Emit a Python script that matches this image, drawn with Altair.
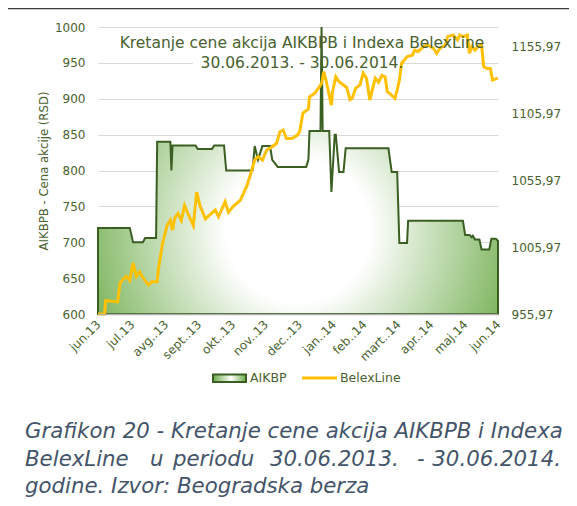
import altair as alt
import pandas as pd

# ---------------- data ----------------
START = "2013-06-30"   # day 0 of the series

# AIKBP share price (RSD), day offset from 30.06.2013
aik_days = [0, 29, 32, 41, 43, 53, 54, 66, 67, 68,
            89, 91, 104, 106, 115, 117, 141, 143, 146, 150,
            157, 159, 164, 190, 192, 193, 203, 204, 205, 211,
            213, 216, 217, 220, 224, 226, 265, 268, 273, 275,
            282, 283, 333, 335, 339, 341, 342, 344, 348, 350,
            357, 359, 363, 365]
aik_vals = [720, 720, 700, 700, 706, 706, 840, 840, 800, 835,
            835, 830, 830, 835, 835, 800, 800, 834, 815, 834,
            834, 815, 805, 805, 815, 855, 855, 1000, 855, 855,
            770, 850, 850, 798, 798, 831, 831, 798, 798, 699,
            699, 730, 730, 710, 710, 707, 709, 704, 704, 690,
            690, 705, 705, 702]

# BelexLine index, day offset from 30.06.2013
belex_days = [0, 6, 7, 18, 20, 23, 26, 29, 32, 35, 38, 41, 46, 49, 54, 55, 57, 59,
              63, 66, 68, 70, 73, 76, 79, 82, 87, 90, 93, 98, 102, 107, 110, 116,
              119, 123, 130, 136, 139, 143, 146, 150, 154, 159, 163, 166, 169, 172,
              177, 182, 184, 187, 192, 193, 198, 201, 204, 206, 208, 210, 213, 214,
              217, 220, 224, 227, 230, 232, 235, 239, 242, 245, 248, 253, 256, 259,
              262, 264, 266, 271, 273, 275, 277, 282, 287, 289, 292, 297, 301, 306,
              309, 312, 317, 319, 324, 328, 330, 333, 337, 339, 341, 344, 347, 350,
              352, 355, 358, 360, 365]
belex_vals = [956, 956, 966, 965, 979, 982, 984, 981, 994, 984, 987.5, 983, 977.6, 980, 980, 989, 999, 1009,
              1022, 1026, 1018.6, 1027.6, 1031, 1026, 1037, 1031, 1022, 1047, 1037, 1027, 1030, 1033.6, 1028.6, 1039.8,
              1032, 1036, 1041, 1052, 1059.7, 1070.9, 1073.4, 1070.9, 1078.4, 1080.8, 1083.4, 1092, 1093.3, 1087,
              1087, 1089.5, 1092, 1106, 1109, 1118, 1121, 1124.4, 1128, 1136.8, 1130.6, 1123, 1111.9, 1121.9,
              1133, 1129.3, 1126.9, 1125, 1116, 1117, 1124.4, 1126.9, 1135.8, 1132, 1115.7, 1132, 1129, 1134,
              1133, 1121.9, 1120.7, 1117, 1123, 1130.6, 1143, 1148, 1149.3, 1153, 1151.8, 1155.6, 1156.7, 1154.3,
              1150.5, 1154.3, 1156.7, 1163, 1164.2, 1160.5, 1164.2, 1163, 1164.2, 1150.5, 1155.6, 1153, 1155.6, 1156.7,
              1140.5, 1139.3, 1139.3, 1130.6, 1132]

tick_dates = ["2013-06-30", "2013-07-31", "2013-08-31", "2013-09-30", "2013-10-31",
              "2013-11-30", "2013-12-31", "2014-01-31", "2014-02-28", "2014-03-31",
              "2014-04-30", "2014-05-31", "2014-06-30"]
tick_labels = ["jun.13", "jul.13", "avg..13", "sept..13", "okt..13", "nov..13", "dec..13",
               "jan..14", "feb..14", "mart..14", "apr..14", "maj.14", "jun.14"]
left_ticks = [600, 650, 700, 750, 800, 850, 900, 950, 1000]
right_ticks = [955.97, 1005.97, 1055.97, 1105.97, 1155.97]
right_domain = [955.97, 1170.2]

title_lines = ["Kretanje cene akcija AIKBPB i Indexa BelexLine", "30.06.2013. - 30.06.2014."]
caption_line1 = "Grafikon 20 - Kretanje cene akcija AIKBPB i Indexa"
caption_line2_words = ["BelexLine", "u", "periodu", "30.06.2013.", "-", "30.06.2014."]
caption_line3 = "godine. Izvor: Beogradska berza"
legend_names = ["AIKBP", "BelexLine"]

# ---------------- styling ----------------
FONT = "DejaVu Sans"
GREEN_TXT = "#4a6130"
DARK_GREEN = "#3b5e22"
AREA_GREEN = "#6aaa46"
YELLOW = "#ffc000"
CAPTION = "#44546a"
W, H = 400, 287

start = pd.Timestamp(START)
aik = pd.DataFrame({"date": start + pd.to_timedelta(aik_days, unit="D"), "AIKBP": aik_vals})
belex = pd.DataFrame({"date": start + pd.to_timedelta(belex_days, unit="D"), "BelexLine": belex_vals})


def dt(s):
    t = pd.Timestamp(s)
    return alt.DateTime(year=t.year, month=t.month, date=t.day)


tick_dt = [dt(s) for s in tick_dates]
x_domain = [dt(tick_dates[0]), dt(tick_dates[-1])]
label_expr = ("[" + ",".join("'%s'" % l for l in tick_labels)
              + "][(year(datum.value)-2013)*12+month(datum.value)-5]")

area_fill = alt.Gradient(
    gradient="radial",
    stops=[alt.GradientStop(color="#ffffff", offset=0),
           alt.GradientStop(color="#ffffff", offset=0.3),
           alt.GradientStop(color=AREA_GREEN, offset=1)],
    x1=0.5, y1=0.65, r1=0, x2=0.5, y2=0.65, r2=0.6,
)

x_scale = alt.Scale(domain=x_domain)
x_enc = alt.X("date:T", scale=x_scale,
              axis=alt.Axis(values=tick_dt, tickCount=40, labelExpr=label_expr, labelAngle=-45,
                            labelAlign="right", labelBaseline="middle", labelPadding=8,
                            labelFont=FONT, labelFontSize=12, labelColor=GREEN_TXT,
                            labelFlush=False, labelOverlap=False, ticks=False,
                            domain=True, domainColor="#b0b0b0", domainWidth=1.6,
                            grid=False, title=None, zindex=1))

area = alt.Chart(aik).mark_area(
    fill=area_fill, stroke=DARK_GREEN, strokeWidth=2, interpolate="linear"
).encode(
    x=x_enc,
    y=alt.Y("AIKBP:Q", scale=alt.Scale(domain=[600, 1000], zero=False, nice=False),
            axis=alt.Axis(values=left_ticks, tickCount=40, format="d", grid=True,
                          gridColor="#d9d9d9", gridWidth=1, ticks=False, domain=False,
                          labelPadding=13, labelFont=FONT, labelFontSize=12,
                          labelColor=GREEN_TXT, labelOverlap=False,
                          title="AIKBPB - Cena akcije (RSD)", titleFont=FONT,
                          titleFontSize=11.7, titleFontWeight="normal", titleColor=GREEN_TXT,
                          titleX=-54.5, titleY=H / 2, titleAngle=-90, titleAlign="center",
                          titleBaseline="middle")),
    y2=alt.datum(600),
)

line = alt.Chart(belex).mark_line(color=YELLOW, strokeWidth=3, interpolate="linear").encode(
    x=alt.X("date:T", scale=x_scale),
    y=alt.Y("BelexLine:Q", scale=alt.Scale(domain=right_domain, zero=False, nice=False),
            axis=alt.Axis(orient="right", values=right_ticks, tickCount=40,
                          labelExpr="replace(format(datum.value, '.2f'), '.', ',')",
                          grid=False, ticks=False, domain=False, labelPadding=13,
                          labelOverlap=False, labelFont=FONT, labelFontSize=12,
                          labelColor=GREEN_TXT, title=None)),
)


def txt(text, x, y, size, color, align="left", style="normal", baseline="alphabetic"):
    return alt.Chart(pd.DataFrame({"t": [text]})).mark_text(
        font=FONT, fontSize=size, color=color, align=align, baseline=baseline, fontStyle=style
    ).encode(text="t:N", x=alt.value(x), y=alt.value(y))


one = pd.DataFrame({"k": [0]})
title_box = alt.Chart(one).mark_rect(color="white").encode(
    x=alt.value(95), x2=alt.value(302), y=alt.value(26), y2=alt.value(43))

frame_top = alt.Chart(one).mark_rule(color="#3a3a3a", strokeWidth=1.6).encode(
    x=alt.value(-90), x2=alt.value(471), y=alt.value(-18.6))

legend_fill = alt.Gradient(
    gradient="linear",
    stops=[alt.GradientStop(color=AREA_GREEN, offset=0),
           alt.GradientStop(color="#ffffff", offset=0.55),
           alt.GradientStop(color=AREA_GREEN, offset=1)],
    x1=0, y1=0.5, x2=1, y2=0.5,
)
legend_rect = alt.Chart(one).mark_rect(fill=legend_fill, stroke=DARK_GREEN, strokeWidth=2).encode(
    x=alt.value(115), x2=alt.value(148), y=alt.value(347.5), y2=alt.value(355))
legend_line = alt.Chart(one).mark_rule(color=YELLOW, strokeWidth=3).encode(
    x=alt.value(204), x2=alt.value(239), y=alt.value(351))

CAP = 21.3
texts = [
    txt(title_lines[0], 204, 21, 15.5, GREEN_TXT, align="center"),
    txt(title_lines[1], 204, 41, 15.5, GREEN_TXT, align="center"),
    txt(legend_names[0], 152, 351, 12.5, GREEN_TXT, baseline="middle"),
    txt(legend_names[1], 242, 351, 12.5, GREEN_TXT, baseline="middle"),
    txt(caption_line1, -73, 411, CAP, CAPTION, style="italic"),
    txt(caption_line3, -73, 466, CAP, CAPTION, style="italic"),
]
word_x = [-73, 52, 75, 172, 319, 463]
for i, w in enumerate(caption_line2_words):
    texts.append(txt(w, word_x[i], 439, CAP, CAPTION, style="italic",
                     align="right" if i == len(caption_line2_words) - 1 else "left"))

chart = alt.layer(
    title_box, area, line, *texts, legend_rect, legend_line, frame_top
).resolve_scale(y="independent").properties(
    width=W, height=H,
    autosize=alt.AutoSizeParams(type="none"),
    padding={"left": 90, "top": 19, "right": 71, "bottom": 184},
).configure_view(stroke=None)

chart.save("out.html", embed_options={"renderer": "svg", "actions": False})
